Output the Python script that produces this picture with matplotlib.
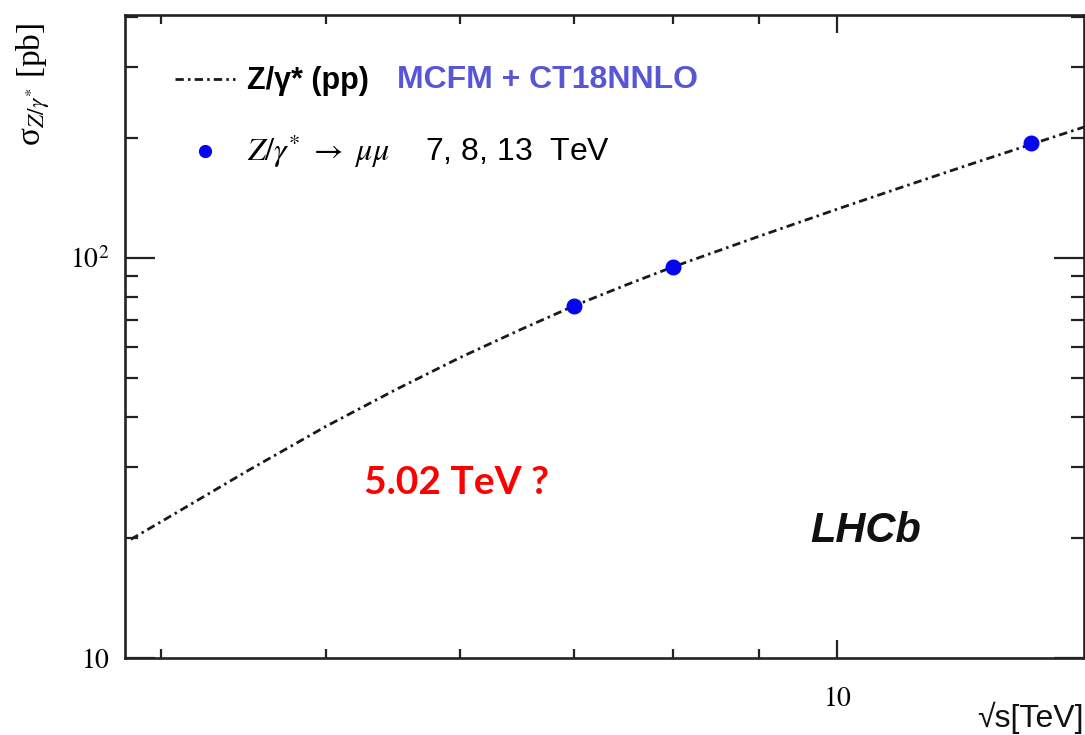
import numpy as np
import matplotlib.pyplot as plt
from matplotlib.lines import Line2D
from matplotlib.ticker import FixedLocator, LogLocator, NullFormatter, FuncFormatter

plt.rcParams['mathtext.fontset'] = 'stix'
plt.rcParams['font.family'] = ['Liberation Sans', 'DejaVu Sans']

# Z/gamma* (pp) prediction, MCFM + CT18NNLO
sqrt_s_theory = [3.84, 4, 4.5, 5, 5.5, 6, 6.5, 7, 7.5, 8, 9, 10, 11, 12, 13, 14]
sigma_theory = [19.8, 21.9, 29.4, 37.9, 46.9, 56.4, 66.0, 75.9, 85.4, 94.9,
                113.4, 132.5, 152.0, 172.0, 192.3, 213.1]

# LHCb Z -> mumu measurements
sqrt_s_data = [7, 8, 13]
sigma_data = [75.9, 95.0, 194.0]

dashdot = (0, (3, 1.5, 0.9, 1.5))

fig = plt.figure(figsize=(10.85, 7.35), dpi=100)
ax = fig.add_axes([125 / 1085, 77 / 735, 959 / 1085, 643 / 735])

ax.plot(sqrt_s_theory, sigma_theory, color='#1a1a1a', lw=2.0, ls=dashdot)
ax.plot(sqrt_s_data, sigma_data, 'o', color='#0505f0', ms=10.5, mec='#0505f0')

ax.set_xscale('log')
ax.set_yscale('log')
ax.set_xlim(3.81, 13.97)
ax.set_ylim(10, 405)

ax.xaxis.set_major_locator(FixedLocator([10]))
ax.xaxis.set_minor_locator(LogLocator(base=10, subs=np.arange(2, 10)))
ax.xaxis.set_major_formatter(FuncFormatter(lambda v, p: '$10$'))
ax.xaxis.set_minor_formatter(NullFormatter())

ax.yaxis.set_major_locator(FixedLocator([10, 100]))
ax.yaxis.set_minor_locator(LogLocator(base=10, subs=np.arange(2, 10)))
ax.yaxis.set_major_formatter(FuncFormatter(lambda v, p: '$10$' if v < 50 else '$10^{2}$'))
ax.yaxis.set_minor_formatter(NullFormatter())

for s in ax.spines.values():
    s.set_linewidth(1.9)
    s.set_color('#222222')

ax.tick_params(which='both', direction='in', top=True, right=True,
               width=1.6, color='#222222', labelsize=20)
ax.tick_params(axis='x', which='major', length=13, pad=20)
ax.tick_params(axis='x', which='minor', length=6.5)
ax.tick_params(axis='y', which='major', length=21.5, pad=11)
ax.tick_params(axis='y', which='minor', length=9.5)

# axis titles
fig.text(33 / 1085, 1 - 84 / 735, r'σ$_{Z/\gamma^{*}}$ [pb]', rotation=90,
         ha='center', va='center', fontsize=24, family='Liberation Serif')
fig.text(1084 / 1085, 0.001, '√s[TeV]', ha='right', va='bottom',
         fontsize=23, color='#111111')

# legend
handles = [Line2D([], [], color='#1a1a1a', lw=2.0, ls=dashdot),
           Line2D([], [], ls='none', marker='o', color='#0505f0', ms=8.5)]
labels = ['Z/γ* (pp)', r'$Z/\gamma^{*}\ \rightarrow\ \mu\mu$    7, 8, 13  TeV']
leg = ax.legend(handles, labels, loc='upper left',
                bbox_to_anchor=(175 / 1085, 1 - 66 / 735), bbox_transform=fig.transFigure,
                frameon=False, fontsize=21, handlelength=2.05, handletextpad=0.42,
                labelspacing=1.24, borderpad=0, borderaxespad=0)
leg.get_texts()[0].set_fontweight('bold')
leg.get_texts()[0].set_fontsize(22)
leg.get_texts()[1].set_fontsize(23)

fig.text(397 / 1085, 1 - 80 / 735, 'MCFM + CT18NNLO', ha='left', va='center',
         fontsize=23, fontweight='bold', color='#5656d6')

fig.text(364 / 1085, 1 - 482 / 735, '5.02 TeV ?', ha='left', va='center',
         fontsize=28, fontweight='bold', color='#ff0000', family=['Lato', 'DejaVu Sans'])
fig.text(810 / 1085, 1 - 531 / 735, 'LHCb', ha='left', va='center',
         fontsize=30, fontweight='bold', fontstyle='italic', color='#111111')

fig.savefig('out.png', dpi=100)
